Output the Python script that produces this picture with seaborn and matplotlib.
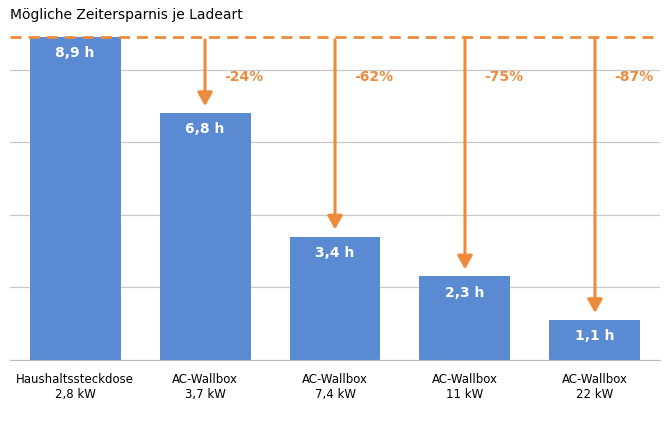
import matplotlib
matplotlib.use("Agg")
import matplotlib.pyplot as plt
import seaborn as sns
import pandas as pd

categories = ["Haushaltssteckdose\n2,8 kW", "AC-Wallbox\n3,7 kW", "AC-Wallbox\n7,4 kW", "AC-Wallbox\n11 kW", "AC-Wallbox\n22 kW"]
hours = [8.9, 6.8, 3.4, 2.3, 1.1]
bar_labels = ["8,9 h", "6,8 h", "3,4 h", "2,3 h", "1,1 h"]
savings = ["", "-24%", "-62%", "-75%", "-87%"]

df = pd.DataFrame({"cat": categories, "h": hours})
blue = "#5A8AD2"
orange = "#EE8A3C"

fig = plt.figure(figsize=(6.7, 4.21), dpi=100)
ax = fig.add_axes([0.015, 0.145, 0.97, 0.78])
sns.barplot(data=df, x="cat", y="h", color=blue, width=0.7, ax=ax, saturation=1)
ax.set_ylim(0, 9.05)
ax.set_xlim(-0.5, 4.5)
ax.set_yticks([0, 2, 4, 6, 8])
ax.yaxis.grid(True, color="#c8c8c8", lw=0.9)
ax.set_axisbelow(True)
ax.tick_params(left=False, labelleft=False, bottom=False, labelsize=8.5, pad=6)
for s in ["top", "right", "left"]:
    ax.spines[s].set_visible(False)
ax.spines["bottom"].set_color("#bbbbbb")
ax.set_xlabel("")
ax.set_ylabel("")

ax.axhline(hours[0], color=orange, ls=(0, (4, 2.5)), lw=2, zorder=5, clip_on=False)
for i, (h, lab, sv) in enumerate(zip(hours, bar_labels, savings)):
    ax.text(i, h - 0.25, lab, ha="center", va="top", color="white", fontsize=10, fontweight="bold")
    if sv:
        ax.annotate("", xy=(i, h + 0.12), xytext=(i, hours[0]),
                    arrowprops=dict(arrowstyle="-|>,head_width=0.45,head_length=0.8", color=orange, lw=2.2), zorder=6)
        ax.text(i + 0.15, 7.8, sv, ha="left", va="center", color=orange, fontsize=10, fontweight="bold")

fig.text(0.015, 0.965, "Mögliche Zeitersparnis je Ladeart", ha="left", va="center", fontsize=10)
fig.savefig("out.png", dpi=100)
